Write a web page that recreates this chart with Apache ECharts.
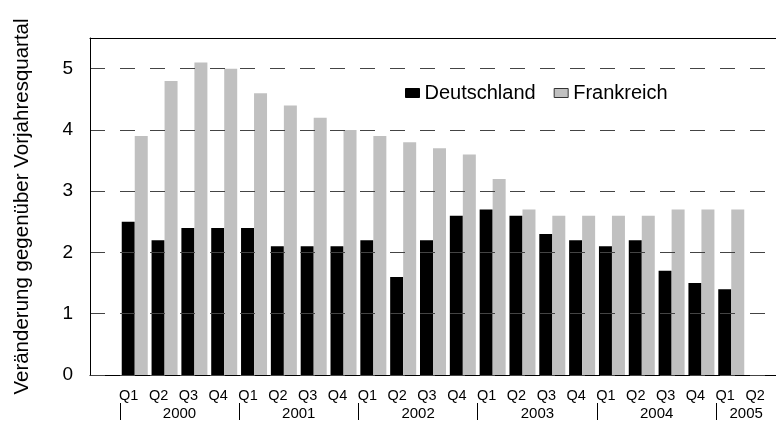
<!DOCTYPE html>
<html>
<head>
<meta charset="utf-8">
<script src="https://cdn.jsdelivr.net/npm/echarts@6/dist/echarts.min.js"></script>
<style>
    html, body { margin: 0; padding: 0; background: #fff; }
    #chart { width: 776px; height: 421px; }
</style>
</head>
<body>
<div id="chart"></div>
<script>
// values
const years = ['2000', '2001', '2002', '2003', '2004', '2005'];
const quarters = ['Q1', 'Q2', 'Q3', 'Q4'];
const quartersPerYear = [4, 4, 4, 4, 4, 2];
const yTicks = [0, 1, 2, 3, 4, 5];

const deutschland = [
    2.5, 2.2, 2.4, 2.4,
    2.4, 2.1, 2.1, 2.1,
    2.2, 1.6, 2.2, 2.6,
    2.7, 2.6, 2.3, 2.2,
    2.1, 2.2, 1.7, 1.5,
    1.4, null,
];
const frankreich = [
    3.9, 4.8, 5.1, 5.0,
    4.6, 4.4, 4.2, 4.0,
    3.9, 3.8, 3.7, 3.6,
    3.2, 2.7, 2.6, 2.6,
    2.6, 2.6, 2.7, 2.7,
    2.7, null,
];

// one empty slot before 2000 Q1, like in the original
const categories = [''];
const yearTicks = [];
const yearCenters = [];
years.forEach((y, i) => {
    const start = categories.length;
    yearTicks.push(start);
    yearCenters.push(start + quartersPerYear[i] / 2);
    for (let q = 0; q < quartersPerYear[i]; q++) {
        categories.push(quarters[q]);
    }
});

const font = '"Liberation Sans", Arial, sans-serif';
const chart = echarts.init(document.getElementById('chart'));

chart.setOption({
    animation: false,
    backgroundColor: '#fff',
    textStyle: { fontFamily: font, color: '#000' },
    grid: {
        left: 90,
        top: 38,
        bottom: 46,
        width: categories.length * 30.09,
        show: false,
    },
    legend: {
        left: 405,
        top: 83,
        padding: 0,
        itemWidth: 14,
        itemHeight: 9,
        itemGap: 18,
        icon: 'rect',
        textStyle: { fontSize: 20, color: '#000', fontFamily: font },
        data: [
            { name: 'Deutschland', itemStyle: { borderColor: '#000', borderWidth: 1 } },
            { name: 'Frankreich', itemStyle: { borderColor: '#333', borderWidth: 1 } },
        ],
    },
    xAxis: [
        {
            type: 'category',
            data: categories,
            axisLine: { lineStyle: { color: '#000', width: 1 } },
            axisTick: { show: false },
            axisLabel: {
                interval: 0,
                fontSize: 14.5,
                color: '#000',
                margin: 13,
                padding: [0, 12, 0, 0],
            },
        },
        {
            // year row with separators
            type: 'value',
            position: 'bottom',
            min: 0,
            max: categories.length,
            offset: 28,
            axisLine: { show: false },
            splitLine: { show: false },
            axisTick: {
                show: true,
                length: 17,
                customValues: yearTicks,
                lineStyle: { color: '#000', width: 1 },
            },
            axisLabel: {
                customValues: yearCenters,
                fontSize: 15,
                color: '#000',
                margin: 3,
                formatter: (v) => years[yearCenters.indexOf(v)] || '',
            },
        },
        {
            // top border of the plot area
            type: 'category',
            position: 'top',
            data: categories,
            z: 6,
            axisLine: { lineStyle: { color: '#000', width: 1 } },
            axisTick: { show: false },
            axisLabel: { show: false },
        },
    ],
    yAxis: {
        type: 'value',
        min: 0,
        max: 5.5,
        interval: 1,
        z: 5,
        name: 'Veränderung gegenüber Vorjahresquartal',
        nameLocation: 'middle',
        nameGap: 57,
        nameTextStyle: { fontSize: 20.5, color: '#000', fontFamily: font },
        axisLine: { show: true, lineStyle: { color: '#000', width: 1 } },
        axisTick: { show: false },
        axisLabel: {
            fontSize: 19,
            color: '#000',
            margin: 17,
            customValues: yTicks,
        },
        splitLine: {
            show: true,
            lineStyle: { color: '#444', width: 1, type: [15, 15] },
        },
    },
    series: [
        {
            name: 'Deutschland',
            type: 'bar',
            data: [null, ...deutschland],
            barWidth: 13,
            barGap: '0%',
            itemStyle: { color: '#000' },
        },
        {
            name: 'Frankreich',
            type: 'bar',
            data: [null, ...frankreich],
            barWidth: 13,
            itemStyle: { color: '#c0c0c0' },
        },
    ],
});
</script>
</body>
</html>
